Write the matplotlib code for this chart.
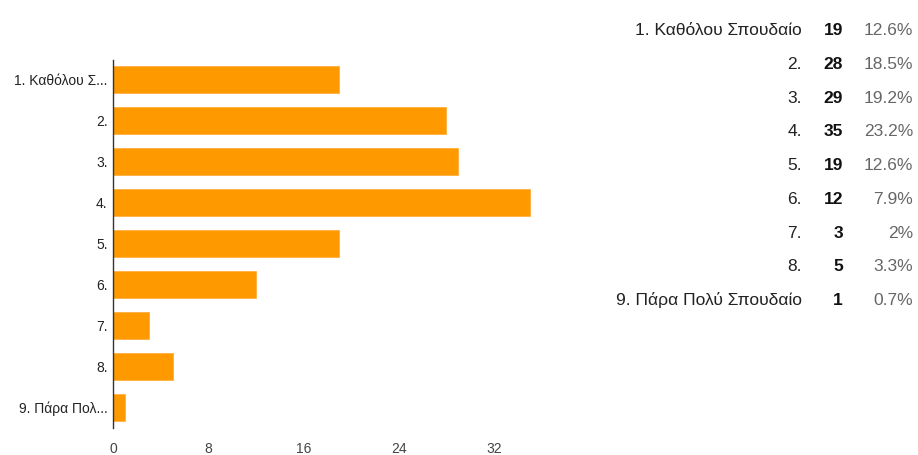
import matplotlib
matplotlib.use("Agg")
import matplotlib.pyplot as plt

plt.rcParams['font.family'] = ['Liberation Sans', 'DejaVu Sans']

# survey answers, 1 = not important at all ... 9 = very important
tick_labels = ["1. Καθόλου Σ...", "2.", "3.", "4.", "5.", "6.", "7.", "8.", "9. Πάρα Πολ..."]
row_labels = ["1. Καθόλου Σπουδαίο", "2.", "3.", "4.", "5.", "6.", "7.", "8.", "9. Πάρα Πολύ Σπουδαίο"]
counts = [19, 28, 29, 35, 19, 12, 3, 5, 1]
percents = ["12.6%", "18.5%", "19.2%", "23.2%", "12.6%", "7.9%", "2%", "3.3%", "0.7%"]
xticks = [0, 8, 16, 24, 32]

W, H = 918, 455
fig = plt.figure(figsize=(W / 100, H / 100), dpi=100)
fig.patch.set_facecolor("white")

ax = fig.add_axes([113 / W, 27 / H, 476 / W, 368.5 / H])
ypos = list(range(len(counts)))
ax.barh(ypos, counts, height=0.66, color="#ff9900", edgecolor="#ffb040", linewidth=0.6)
ax.set_ylim(len(counts) - 0.5, -0.5)
ax.set_xlim(0, 40)

ax.set_yticks(ypos)
ax.set_yticklabels(tick_labels, fontsize=10, color="#222222")
ax.set_xticks(xticks)
ax.set_xticklabels([str(t) for t in xticks], fontsize=10, color="#444444")
ax.tick_params(axis="y", length=0, pad=4)
ax.tick_params(axis="x", length=0, pad=10)

for side in ["top", "right", "bottom"]:
    ax.spines[side].set_visible(False)
ax.spines["left"].set_color("#333333")
ax.spines["left"].set_linewidth(1.0)

# summary table on the right
for i in range(len(counts)):
    yb = 1 - (35.2 + 33.75 * i) / H
    fig.text(802 / W, yb, row_labels[i], ha="right", va="baseline",
             fontsize=12.5, color="#222222")
    fig.text(843 / W, yb, str(counts[i]), ha="right", va="baseline",
             fontsize=12.5, fontweight="bold", color="#111111")
    fig.text(913 / W, yb, percents[i], ha="right", va="baseline",
             fontsize=12.5, color="#666666")

fig.savefig("out.png", dpi=100)
